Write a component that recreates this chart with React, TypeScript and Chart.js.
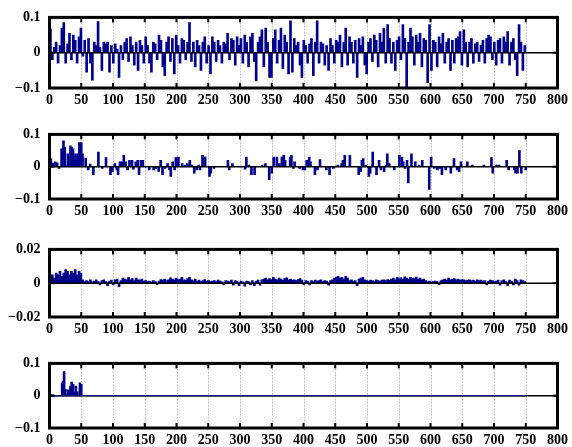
import { useEffect, useRef } from 'react';
import { Chart, registerables } from 'chart.js';
Chart.register(...registerables);

// ---------- data ----------
const X_MIN = 0;
const X_MAX = 800;
const X_STEP = 50;
const SAMPLE_STEP = 3; // spacing (x units) of the dense samples in panels 1 and 3
const DATA_END = 750;
const ZERO_X = [0, 800];

// Panel 1: dense signal (one value every 3 samples)
const P1_VALUES = [
  0.067, -0.02, 0.015, 0.03, -0.03, 0.02, 0.07, 0.085, -0.03, 0.025,
  0.055, -0.02, 0.05, 0.035, -0.03, 0.045, 0.07, -0.01, 0.035, -0.055,
  0.04, -0.03, -0.078, 0.03, 0.02, 0.088, 0.015, -0.05, 0.03, 0.025,
  0.03, -0.055, 0.02, -0.03, 0.025, 0.01, -0.07, 0.02, -0.02, 0.03,
  0.04, -0.025, 0.045, 0.02, -0.035, 0.03, -0.05, 0.035, 0.02, -0.03,
  0.045, 0.02, -0.03, -0.055, 0.03, 0.025, -0.02, 0.05, 0.035, -0.04,
  -0.065, 0.03, 0.045, -0.025, 0.04, -0.06, 0.05, 0.02, -0.03, 0.04,
  0.035, -0.02, 0.03, 0.085, -0.025, 0.03, -0.04, 0.035, 0.02, -0.05,
  0.03, 0.045, -0.03, 0.02, -0.06, 0.045, 0.03, -0.025, 0.035, 0.02,
  -0.03, 0.03, 0.025, 0.055, -0.02, 0.04, 0.035, -0.035, 0.045, 0.02,
  0.04, -0.03, 0.05, 0.03, -0.04, 0.045, 0.055, -0.025, -0.08, 0.03,
  0.045, 0.065, -0.04, 0.07, 0.03, -0.07, -0.07, 0.04, 0.065, -0.03,
  0.035, 0.07, -0.045, 0.05, 0.03, -0.06, 0.09, -0.055, 0.04, 0.02,
  0.03, -0.035, -0.07, 0.035, 0.02, -0.03, 0.025, 0.04, -0.065, 0.03,
  0.09, -0.03, 0.03, 0.025, -0.035, 0.02, -0.05, 0.04, 0.02, -0.03,
  0.035, 0.03, 0.05, -0.04, 0.03, 0.07, -0.035, 0.045, 0.03, -0.03,
  0.035, -0.07, 0.04, 0.02, 0.045, -0.035, -0.06, 0.03, 0.04, -0.025,
  0.05, 0.035, -0.04, 0.055, 0.03, 0.07, -0.03, 0.08, 0.04, -0.03,
  0.03, -0.05, 0.035, 0.045, -0.02, 0.08, 0.04, -0.1, 0.03, 0.07,
  0.045, -0.035, 0.05, 0.03, 0.055, -0.04, 0.04, 0.035, -0.085, 0.08,
  -0.05, 0.035, 0.03, -0.04, 0.045, 0.025, 0.055, -0.03, 0.03, 0.04,
  -0.05, 0.035, -0.03, 0.04, 0.045, 0.06, -0.035, 0.065, 0.03, -0.04,
  0.03, 0.04, -0.03, 0.025, 0.03, -0.025, 0.02, 0.035, -0.03, 0.04,
  0.05, 0.045, -0.02, 0.03, -0.035, 0.035, 0.04, -0.03, 0.045, 0.03,
  0.06, -0.035, 0.03, 0.04, -0.02, -0.065, 0.08, 0.03, -0.05, 0.02,
];

// Panel 2: sparse spikes [x, value]
const P2_SPIKES: [number, number][] = [
  [2, 0.025], [4, 0.012], [6, 0.01], [9, 0.015], [12, 0.012], [15, -0.005],
  [19, 0.055], [22, 0.08], [24, 0.06], [27, 0.003], [29, 0.04], [33, 0.065],
  [35, 0.06], [37, 0.055], [39, 0.025], [41, 0.04], [43, 0.025], [45, 0.04],
  [47, 0.075], [50, 0.075], [52, 0.04], [57, 0.027], [61, -0.01], [64, 0.008],
  [69, -0.025], [77, 0.045], [83, -0.005], [89, 0.028], [96, -0.025], [99, -0.015],
  [103, 0.01], [106, -0.01], [108, -0.025], [111, 0.015], [114, 0.015], [117, 0.035],
  [120, 0.015], [123, -0.01], [126, 0.02], [130, 0.02], [132, -0.008], [136, 0.015],
  [139, 0.02], [141, -0.025], [144, 0.02], [147, 0.02], [157, -0.01], [164, -0.01],
  [168, -0.005], [172, -0.015], [175, 0.02], [178, -0.025], [182, -0.005], [186, 0.01],
  [189, -0.01], [191, -0.03], [194, 0.015], [197, -0.01], [199, 0.028], [203, 0.03],
  [209, 0.01], [214, 0.005], [217, 0.01], [221, 0.02], [224, 0.005], [228, -0.02],
  [232, -0.01], [235, 0.005], [237, -0.01], [241, 0.035], [245, 0.03], [252, -0.03],
  [254, -0.02], [259, -0.005], [281, 0.02], [283, -0.01], [288, 0.01], [308, -0.008],
  [310, 0.03], [314, 0.005], [318, -0.025], [323, -0.025], [335, 0.005], [340, 0.01],
  [346, -0.04], [350, -0.02], [353, 0.03], [358, 0.03], [362, 0.01], [366, 0.03],
  [369, 0.035], [371, 0.02], [379, 0.03], [381, 0.035], [384, -0.005], [386, 0.015],
  [394, -0.005], [399, -0.01], [402, -0.01], [405, 0.02], [409, 0.03], [411, 0.015],
  [418, -0.025], [422, -0.01], [426, 0.022], [436, -0.01], [441, -0.025], [447, -0.005],
  [454, 0.005], [460, 0.01], [462, 0.02], [465, 0.035], [473, 0.035], [487, -0.025],
  [490, -0.015], [492, 0.02], [494, 0.025], [498, 0.005], [503, -0.03], [505, -0.02],
  [509, 0.045], [515, -0.025], [519, 0.02], [522, -0.01], [527, -0.015], [530, 0.005],
  [532, 0.04], [535, 0.01], [543, -0.01], [551, 0.035], [555, 0.03], [557, 0.015],
  [560, -0.005], [563, 0.02], [565, -0.05], [570, 0.04], [576, 0.015], [582, 0.005],
  [587, 0.02], [598, -0.07], [601, 0.03], [606, -0.005], [611, -0.01], [615, -0.005],
  [618, -0.025], [624, -0.01], [632, -0.02], [637, 0.025], [642, -0.01], [645, -0.015],
  [648, 0.015], [658, 0.015], [666, 0.005], [684, 0.005], [696, 0.028], [698, -0.02],
  [704, 0.005], [708, 0.005], [720, 0.02], [723, -0.01], [732, -0.01], [734, -0.02],
  [737, -0.02], [740, 0.05], [743, -0.02], [750, -0.01],
];

// Panel 3: dense small signal (one value every 3 samples)
const P3_VALUES = [
  0.004, 0.005, 0.003, 0.006, 0.005, 0.007, 0.004, 0.006, 0.008, 0.007, 0.005, 0.007, 0.006, 0.008, 0.005, 0.007, 0.006,
  0.002, 0.001, 0.0015, 0.001, 0.002, 0.0008, 0.0012, 0.002, 0.001, -0.001, 0.0015, 0.002, 0.001, -0.0015, 0.0012, 0.0018, -0.0008,
  0.002, 0.0025, -0.002, 0.0015, 0.003, 0.0025, 0.002, 0.0035, 0.002, 0.0028, 0.0015, 0.003, 0.002, 0.0018, 0.0025, 0.0012, 0.0015,
  0.001, 0.0012, 0.0008, 0.0015, 0.001, -0.0008, 0.0012, 0.0022, 0.0018, 0.0025, 0.0015, 0.002, 0.0032, 0.0025, 0.002, 0.003, 0.0022,
  0.0025, 0.0035, 0.002, 0.0018, 0.0028, 0.0035, 0.002, 0.0015, 0.0025, 0.0012, 0.0018, 0.001, 0.0015, 0.0022, 0.0012, 0.0015, 0.001,
  0.0012, 0.0015, 0.001, 0.0018, 0.0012, 0.0008, -0.001, 0.0015, 0.0012, 0.001, 0.0018, -0.0012, 0.0015, 0.001, -0.0015, 0.0012, 0.0008,
  -0.0018, 0.0012, 0.001, -0.001, 0.0015, -0.0015, 0.0012, 0.0018, -0.0012,
  0.002, 0.0025, 0.003, 0.002, 0.0028, 0.0022, 0.0035, 0.0025, 0.002, 0.003, 0.0025, 0.0018, 0.0028, 0.0032, 0.002, 0.0025, 0.0018, 0.002, 0.0015, 0.0022, 0.0028, 0.0018, -0.0008, 0.0015, 0.0012,
  -0.001, 0.0015, 0.001, 0.0018, 0.0012, 0.0015, 0.002, 0.001, 0.0015, 0.0012, -0.0012, 0.0015, 0.002, 0.003, 0.0035,
  0.004, 0.003, 0.0035, 0.0025, 0.004, 0.003, 0.0015, 0.002, 0.0012, 0.0015, -0.0015, 0.0025,
  0.003, 0.0035, 0.002, 0.0015, 0.0012, 0.0018, 0.0015, 0.001, 0.002, 0.0015, 0.0012, 0.0018, 0.002, 0.0015, 0.0022, 0.0018,
  0.0025, 0.003, 0.002, 0.0035, 0.0028, 0.0032, 0.0025, 0.0038, 0.003, 0.0025, 0.0035, 0.003, 0.0028, 0.0036, 0.0025, 0.003, 0.002, 0.0025,
  0.0015, 0.001, 0.0012, 0.0008, 0.001, 0.0012, 0.001, -0.0008,
  0.0015, 0.002, 0.0025, 0.0018, 0.003, 0.0022, 0.0025, 0.0028, 0.002, 0.0025, 0.0018, 0.0022, 0.002, 0.0015, 0.0018,
  0.002, 0.0015, 0.0018, 0.0012, 0.002, 0.0015, 0.0018, 0.0012, 0.0015, -0.001, 0.0012, 0.0018, 0.0015, 0.001, 0.0012,
  0.0018, -0.0012, 0.0015, 0.002, 0.001, -0.0015, 0.0018, 0.0012, -0.001, 0.0025, 0.0015, -0.0012, 0.002, 0.0015, 0.001,
];

// Panel 4: a few spikes at the start [x, value]
const P4_SPIKES: [number, number][] = [
  [2, 0.003], [5, 0.003], [20, 0.04], [21.5, 0.045], [23, 0.075], [25, 0.02],
  [29.5, 0.018], [33, 0.03], [35, 0.042], [37, 0.035], [40, 0.012], [41.5, 0.03],
  [44, 0.012], [48, 0.04], [50, 0.035],
];

// ---------- styling ----------
const NAVY = '#00008B';
const FONT = { family: 'Liberation Serif', size: 14, weight: 'bold' as const };

const dense = (vals: number[]) => vals.map((y, i) => ({ x: i * SAMPLE_STEP + SAMPLE_STEP / 2, y }));
const sparse = (pairs: [number, number][]) => pairs.map(([x, y]) => ({ x, y }));

const PANELS = [
  { top: 0, plotH: 78, yMax: 0.1, bars: dense(P1_VALUES), navyBase: false },
  { top: 117, plotH: 72, yMax: 0.1, bars: sparse(P2_SPIKES), navyBase: false },
  { top: 232, plotH: 75, yMax: 0.02, bars: dense(P3_VALUES), navyBase: false },
  { top: 346, plotH: 72, yMax: 0.1, bars: sparse(P4_SPIKES), navyBase: true },
];

const PAD_TOP = 10;
const AXIS_H = 20;

const fmt = (v: number) => {
  if (Math.abs(v) < 1e-9) return '0';
  const s = parseFloat(Math.abs(v).toFixed(4)).toString();
  return (v < 0 ? '\u2212' : '') + s;
};

const framePlugin = {
  id: 'frame',
  beforeDatasetsDraw(chart: any) {
    const { ctx, chartArea: a, scales } = chart;
    const x = scales.x;
    ctx.save();
    ctx.strokeStyle = '#9a9a9a';
    ctx.lineWidth = 1;
    ctx.setLineDash([1, 2]);
    x.ticks.forEach((t: any) => {
      if (t.value <= x.min || t.value >= x.max) return;
      const px = Math.round(x.getPixelForValue(t.value)) + 0.5;
      ctx.beginPath();
      ctx.moveTo(px, a.top);
      ctx.lineTo(px, a.bottom);
      ctx.stroke();
    });
    ctx.restore();
  },
  afterDatasetsDraw(chart: any) {
    const { ctx, chartArea: a, scales } = chart;
    const x = scales.x;
    const y = scales.y;
    const TL = 5;
    ctx.save();
    ctx.setLineDash([]);
    ctx.strokeStyle = '#000';
    ctx.lineWidth = 2;
    const seg = (x1: number, y1: number, x2: number, y2: number) => {
      ctx.beginPath();
      ctx.moveTo(x1, y1);
      ctx.lineTo(x2, y2);
      ctx.stroke();
    };
    x.ticks.forEach((t: any) => {
      const px = x.getPixelForValue(t.value);
      seg(px, a.top, px, a.top + TL);
      seg(px, a.bottom, px, a.bottom - TL);
    });
    y.ticks.forEach((t: any) => {
      const py = y.getPixelForValue(t.value);
      seg(a.left, py, a.left + TL, py);
      seg(a.right, py, a.right - TL, py);
    });
    ctx.lineWidth = 3;
    ctx.strokeRect(a.left, a.top, a.right - a.left, a.bottom - a.top);
    ctx.restore();
  },
};

function Panel({ cfg }: { cfg: (typeof PANELS)[number] }) {
  const ref = useRef<HTMLCanvasElement>(null);
  const h = PAD_TOP + cfg.plotH + AXIS_H;
  useEffect(() => {
    const datasets: any[] = [
      {
        type: 'bar',
        data: cfg.bars,
        backgroundColor: NAVY,
        borderWidth: 0,
        barThickness: 2,
        order: 2,
      },
      {
        type: 'line',
        data: ZERO_X.map((x) => ({ x, y: 0 })),
        borderColor: '#000',
        borderWidth: 1.5,
        pointRadius: 0,
        order: 1,
      },
    ];
    if (cfg.navyBase) {
      datasets.push({
        type: 'line',
        data: [X_MIN, DATA_END].map((x) => ({ x, y: 0 })),
        borderColor: '#1a1a6e',
        borderWidth: 1.5,
        pointRadius: 0,
        order: 0,
      });
    }
    const chart = new Chart(ref.current!, {
      type: 'bar',
      data: { datasets },
      options: {
        responsive: false,
        animation: false,
        events: [],
        layout: { padding: { top: PAD_TOP, left: 0, right: 11, bottom: 0 } },
        plugins: { legend: { display: false }, tooltip: { enabled: false } },
        scales: {
          x: {
            type: 'linear',
            min: X_MIN,
            max: X_MAX,
            offset: false,
            grid: { display: false, drawTicks: false },
            border: { display: false },
            ticks: {
              stepSize: X_STEP,
              autoSkip: false,
              maxRotation: 0,
              padding: 4,
              color: '#000',
              font: FONT,
            },
            afterFit: (s: any) => {
              s.height = AXIS_H;
            },
          },
          y: {
            type: 'linear',
            min: -cfg.yMax,
            max: cfg.yMax,
            grid: { display: false, drawTicks: false },
            border: { display: false },
            ticks: {
              stepSize: cfg.yMax,
              padding: 9,
              color: '#000',
              font: FONT,
              callback: (v: any) => fmt(Number(v)),
            },
            afterFit: (s: any) => {
              s.width = 49.5;
            },
          },
        },
      },
      plugins: [framePlugin],
    } as any);
    return () => chart.destroy();
  }, []);
  return (
    <canvas
      ref={ref}
      width={572}
      height={h}
      style={{ position: 'absolute', left: 0, top: cfg.top, width: 572, height: h }}
    />
  );
}

export default function App() {
  return (
    <div
      style={{
        position: 'fixed',
        left: 0,
        top: 0,
        width: 572,
        height: 447,
        overflow: 'hidden',
        background: '#fff',
      }}
    >
      {PANELS.map((p, i) => (
        <Panel key={i} cfg={p} />
      ))}
    </div>
  );
}
